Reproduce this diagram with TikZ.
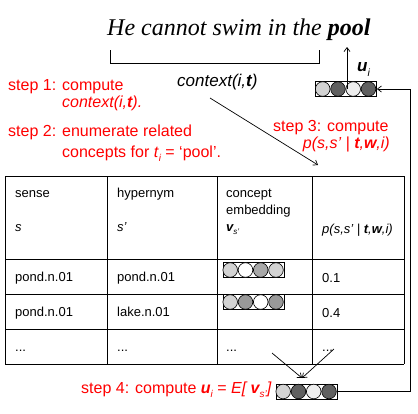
\documentclass[tikz,border=0pt]{standalone}
\usepackage{fontspec}
\usepackage{graphicx}
\setmainfont{Liberation Sans}
\newfontfamily\serifit{Liberation Serif}
\usetikzlibrary{arrows.meta}
\definecolor{clight}{HTML}{D3D3D3}
\definecolor{cdark}{HTML}{606060}
\definecolor{cpale}{HTML}{EEEEEE}
\definecolor{cmid}{HTML}{A8A8A8}
\definecolor{cmidd}{HTML}{999999}
\newcommand\lsub[1]{\raisebox{-0.3em}{\scalebox{0.62}{#1}}}
\tikzset{
 redtxt/.style={text=red, font=\fontsize{16}{19}\selectfont, anchor=base west, inner sep=0},
 tabtxt/.style={font=\fontsize{13}{15}\selectfont, anchor=base west, inner sep=0},
 embox/.style={draw, line width=0.8, minimum width=61, minimum height=15, inner sep=0},
 conn/.style={line width=0.7, -{Straight Barb[length=4,width=6]}},
 tline/.style={line width=0.8},
 dot/.style={draw, line width=0.6},
}
\newcommand\embrow[6]{%
  \node[embox] (#1) at #2 {};
  \draw[dot, fill=#3] ([xshift=7.6]#1.west) circle (7.3pt);
  \draw[dot, fill=#4] ([xshift=22.9]#1.west) circle (7.3pt);
  \draw[dot, fill=#5] ([xshift=38.1]#1.west) circle (7.3pt);
  \draw[dot, fill=#6] ([xshift=53.4]#1.west) circle (7.3pt);
}
\begin{document}
\begin{tikzpicture}[x=1pt, y=-1pt]
\useasboundingbox (0,0) rectangle (418,413);
% sentence
\node[font=\fontsize{24}{28}\serifit\itshape, anchor=base west, inner sep=0] (sent) at (107,35) {He cannot swim in the \textbf{pool}};
\draw[line width=0.8] (110,50) -- (110,63) -- (319,63) -- (319,50);
\node[font=\fontsize{17}{20}\selectfont\itshape, anchor=base west, inner sep=0] (ctx) at (177,86) {context(i,\textbf{t})};
% u_i
\embrow{ubox}{(346,89)}{clight}{cdark}{cpale}{cdark}
\coordinate (uup) at (347,47);
\draw[conn] ([xshift=1, yshift=-8]ubox.north) -- (uup);
\node[anchor=base west, inner sep=0, font=\fontsize{17}{20}\selectfont\bfseries\itshape] (ulab) at (357,71) {u\lsub{\mdseries i}};
% steps
\node[redtxt] (s1a) at (8,90) {step 1: compute};
\node[redtxt] (s1b) at (62,107) {\itshape context(i,\textbf{t}).};
\node[redtxt] (s2a) at (8,136) {step 2: enumerate related};
\node[redtxt] (s2b) at (62,157) {concepts for \textit{t}\lsub{\itshape i} = ‘pool’.};
\node[redtxt] (s3a) at (273,131) {step 3: compute};
\node[redtxt, anchor=base east] (s3b) at (390,148) {\itshape p(s,s’ | \textbf{t},\textbf{w},i)};
\node[redtxt] (s4) at (81,393) {step 4: compute \textbf{\textit{u}}\lsub{\itshape i} = {\itshape E[ \textbf{v}\lsub{s’}]}};
% arrow step 3
\coordinate (c3a) at (210,98);
\coordinate (c3b) at (318,165);
\draw[conn] (c3a) -- (c3b);
% table
\draw[tline] (5,176) -- (404,176);
\foreach \yy in {259,294,329,364} \draw[tline] (5,\yy) -- (404,\yy);
\foreach \xx in {5,107,217,312,404} \draw[tline] (\xx,176) -- (\xx,364);
\node[tabtxt] (h1) at (15,197) {sense};
\node[tabtxt] (h1s) at (15,231) {\itshape s};
\node[tabtxt] (h2) at (117,197) {hypernym};
\node[tabtxt] (h2s) at (117,231) {\itshape s’};
\node[tabtxt] (h3) at (226,197) {concept};
\node[tabtxt] (h3b) at (226,214) {embedding};
\node[tabtxt] (h3v) at (226,231) {\bfseries\itshape v\lsub{\mdseries s’}};
\node[tabtxt] (h4) at (322,233) {\itshape p(s,s’ | \textbf{t},\textbf{w},i)};
\node[tabtxt] (r1a) at (15,281) {pond.n.01};
\node[tabtxt] (r1b) at (117,281) {pond.n.01};
\node[tabtxt] (r1d) at (322,282) {0.1};
\node[tabtxt] (r2a) at (15,316) {pond.n.01};
\node[tabtxt] (r2b) at (117,316) {lake.n.01};
\node[tabtxt] (r2d) at (322,317) {0.4};
\node[tabtxt] (r3a) at (15,351) {...};
\node[tabtxt] (r3b) at (117,351) {...};
\node[tabtxt] (r3c) at (226,351) {...};
\node[tabtxt] (r3d) at (322,351) {...};
\embrow{ebox1}{(253.5,270)}{clight}{white}{cmid}{clight}
\embrow{ebox2}{(253.5,302)}{clight}{cmidd}{white}{cmidd}
% step 4 result
\embrow{ebox3}{(306.5,391.5)}{clight}{cdark}{cpale}{cdark}
\coordinate (a4a) at (272,353);
\coordinate (a4b) at (334,349);
\coordinate (a4t) at (302,378);
\draw[conn] (a4a) -- (a4t);
\draw[conn] (a4b) -- (a4t);
\draw[conn] (ebox3.east) -- ++(73,0) |- (ubox.east);
\end{tikzpicture}
\end{document}
